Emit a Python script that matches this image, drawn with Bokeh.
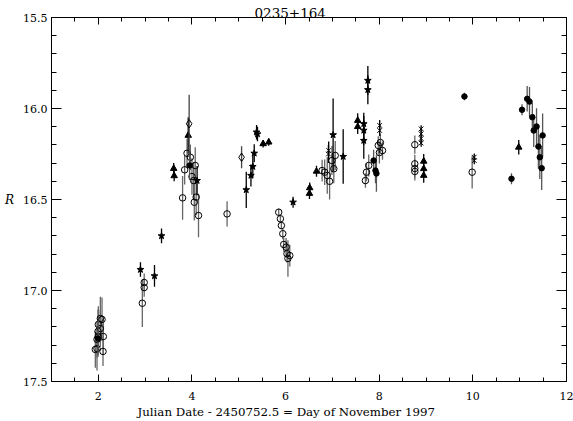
import numpy as np
from bokeh.plotting import figure
from bokeh.models import LinearAxis, Range1d, FixedTicker, Title, ColumnDataSource
from bokeh.embed import file_html
from bokeh.resources import INLINE

title_text = "0235+164"
x_title = "Julian Date - 2450752.5 = Day of November 1997"
y_title = "R"
x_major = [2, 4, 6, 8, 10, 12]
x_minor = [1.5, 2.5, 3, 3.5, 4.5, 5, 5.5, 6.5, 7, 7.5, 8.5, 9, 9.5, 10.5, 11, 11.5]
y_major = [15.5, 16.0, 16.5, 17.0, 17.5]
y_major_labels = ["15.5", "16.0", "16.5", "17.0", "17.5"]
y_minor = [15.6, 15.7, 15.8, 15.9, 16.1, 16.2, 16.3, 16.4, 16.6, 16.7, 16.8, 16.9,
           17.1, 17.2, 17.3, 17.4]

# open circles
circ_x = [1.936, 1.972, 1.972, 1.994, 2.000, 2.000, 2.043, 2.043, 2.079, 2.100, 2.107,
          2.98, 2.98, 2.94,
          3.895, 3.966, 3.844, 4.07, 4.00, 4.036, 3.80, 4.09, 4.05, 4.14, 4.75,
          5.853, 5.889, 5.91, 5.94, 5.96, 6.01, 6.03, 6.09, 6.05,
          6.78, 6.835, 6.89, 6.94, 6.99, 7.03, 7.06,
          7.705, 7.727, 7.776, 7.98, 8.025, 8.07, 8.004,
          8.76, 8.76, 8.76, 8.76, 9.985]
circ_y = [17.324, 17.319, 17.269, 17.225, 17.187, 17.253, 17.154, 17.209, 17.159, 17.335, 17.253,
          16.956, 16.984, 17.07,
          16.246, 16.268, 16.337, 16.313, 16.374, 16.396, 16.491, 16.487, 16.515, 16.588, 16.579,
          16.57, 16.606, 16.643, 16.688, 16.747, 16.762, 16.798, 16.808, 16.824,
          16.341, 16.35, 16.368, 16.40, 16.286, 16.331, 16.258,
          16.396, 16.35, 16.313, 16.203, 16.187, 16.231, 16.242,
          16.199, 16.304, 16.33, 16.346, 16.35]
circ_e = [0.10, 0.12, 0.10, 0.12, 0.10, 0.10, 0.12, 0.10, 0.12, 0.08, 0.10,
          0.05, 0.05, 0.13,
          0.08, 0.07, 0.08, 0.10, 0.10, 0.10, 0.12, 0.10, 0.10, 0.12, 0.07,
          0.02, 0.02, 0.02, 0.03, 0.04, 0.05, 0.05, 0.06, 0.10,
          0.06, 0.07, 0.10, 0.10, 0.08, 0.08, 0.08,
          0.04, 0.05, 0.06, 0.05, 0.05, 0.05, 0.06,
          0.05, 0.05, 0.05, 0.05, 0.09]

# filled circles
dot_x = [1.994, 3.95, 7.88, 7.92, 7.94, 9.82, 10.825, 11.05, 11.16, 11.21, 11.27,
         11.30, 11.36, 11.40, 11.43, 11.47, 11.49]
dot_y = [17.264, 16.313, 16.286, 16.341, 16.357, 15.934, 16.386, 16.007, 15.947, 15.962,
         16.048, 16.121, 16.099, 16.209, 16.268, 16.328, 16.148]
dot_e = [0.10, 0.08, 0.06, 0.07, 0.10, 0.02, 0.03, 0.03, 0.07, 0.08, 0.08,
         0.09, 0.10, 0.12, 0.12, 0.12, 0.12]

# filled triangles
tri_x = [3.61, 3.62, 3.92, 5.52, 5.64, 6.515, 6.51, 6.66, 7.54, 7.54, 8.95, 8.95, 8.95, 10.98]
tri_y = [16.33, 16.37, 16.148, 16.194, 16.185, 16.436, 16.467, 16.345, 16.066, 16.10,
         16.29, 16.331, 16.368, 16.213]
tri_e = [0.03, 0.03, 0.10, 0.02, 0.02, 0.03, 0.03, 0.03, 0.04, 0.04, 0.04, 0.04, 0.04, 0.04]

# open diamonds
dia_x = [3.94, 5.06]
dia_y = [16.084, 16.268]
dia_e = [0.16, 0.06]

# crosses
crs_x = [6.92, 6.915, 8.01, 8.01, 8.895, 8.895, 8.895, 8.895, 10.03, 10.03]
crs_y = [16.231, 16.25, 16.093, 16.121, 16.112, 16.139, 16.165, 16.19, 16.267, 16.286]
crs_e = [0.05, 0.05, 0.03, 0.03, 0.02, 0.02, 0.02, 0.02, 0.02, 0.02]

# filled stars
star_x = [2.90, 3.20, 3.35, 4.11, 5.16, 5.26, 5.30, 5.33, 5.38, 5.40, 6.16, 7.015, 7.23,
          7.67, 7.67, 7.67, 7.757, 7.757]
star_y = [16.885, 16.92, 16.70, 16.396, 16.447, 16.368, 16.319, 16.246, 16.13, 16.14,
          16.515, 16.145, 16.264, 16.084, 16.12, 16.176, 15.846, 15.897]
star_e = [0.04, 0.06, 0.04, 0.08, 0.10, 0.06, 0.06, 0.05, 0.04, 0.04, 0.03, 0.20, 0.15,
          0.06, 0.08, 0.10, 0.08, 0.08]

FONT = "DejaVu Serif"

p = figure(width=573, height=421, x_range=Range1d(1, 12), y_range=Range1d(17.5, 15.5),
           output_backend="svg", toolbar_location=None,
           min_border_left=51, min_border_right=7, min_border_top=17, min_border_bottom=40)
p.xgrid.visible = False
p.ygrid.visible = False
p.outline_line_color = "black"
p.outline_line_width = 1
p.background_fill_color = "white"
p.border_fill_color = "white"


def style_axis(ax, tin, min_in, labels=True):
    ax.major_tick_in = tin
    ax.major_tick_out = 0
    ax.minor_tick_in = min_in
    ax.minor_tick_out = 0
    ax.axis_line_color = "black"
    ax.major_tick_line_color = "black"
    ax.minor_tick_line_color = "black"
    if labels:
        ax.major_label_text_font = FONT
        ax.major_label_text_font_size = "11px"
        ax.major_label_text_color = "black"
        ax.axis_label_text_font = FONT
        ax.axis_label_text_color = "black"
    else:
        ax.major_label_text_font_size = "0px"
        ax.major_label_text_color = None
        ax.major_label_standoff = 0


xa = p.xaxis[0]
xa.ticker = FixedTicker(ticks=x_major, minor_ticks=x_minor)
style_axis(xa, 7, 4)
xa.major_label_standoff = 10

ya = p.yaxis[0]
ya.ticker = FixedTicker(ticks=y_major, minor_ticks=y_minor)
style_axis(ya, 10, 5)
ya.major_label_overrides = {v: s for v, s in zip(y_major, y_major_labels)}
ya.major_label_standoff = 4
ya.axis_label = y_title
ya.axis_label_text_font_size = "12px"
ya.axis_label_text_font_style = "italic"
ya.axis_label_orientation = "horizontal"
ya.axis_label_standoff = 6

top = LinearAxis(ticker=FixedTicker(ticks=x_major, minor_ticks=x_minor))
style_axis(top, 7, 4, labels=False)
top.major_label_standoff = 3
p.add_layout(top, "above")
right = LinearAxis(ticker=FixedTicker(ticks=y_major, minor_ticks=y_minor))
style_axis(right, 10, 5, labels=False)
p.add_layout(right, "right")


def add_series(xs, ys, es, marker, fill, ecolor, size):
    x = np.array(xs)
    y = np.array(ys)
    e = np.array(es)
    src = ColumnDataSource(dict(x=x, y=y, lo=y - e, hi=y + e))
    p.segment(x0="x", y0="lo", x1="x", y1="hi", source=src, line_color=ecolor, line_width=1.3)
    p.scatter(x="x", y="y", source=src, marker=marker, size=size, line_color="black",
              fill_color=fill, line_width=1)


add_series(circ_x, circ_y, circ_e, "circle", None, "#666666", 6.5)
add_series(dot_x, dot_y, dot_e, "circle", "black", "#555555", 5.5)
add_series(tri_x, tri_y, tri_e, "triangle", "black", "black", 6.5)
add_series(dia_x, dia_y, dia_e, "diamond", None, "#444444", 8.5)
add_series(crs_x, crs_y, crs_e, "x", None, "black", 6.5)
add_series(star_x, star_y, star_e, "star", "black", "black", 7)

# titles, centred on the window like the original
p.add_layout(Title(text=title_text, align="left", offset=203, standoff=0,
                   text_font=FONT, text_font_size="13.5px", text_font_style="normal",
                   text_line_height=1.0, text_color="black"), "above")
p.add_layout(Title(text=x_title, align="left", offset=86, standoff=0,
                   text_font=FONT, text_font_size="11.8px", text_font_style="normal",
                   text_color="black"), "below")

open("out.html", "w").write(file_html(p, INLINE))
